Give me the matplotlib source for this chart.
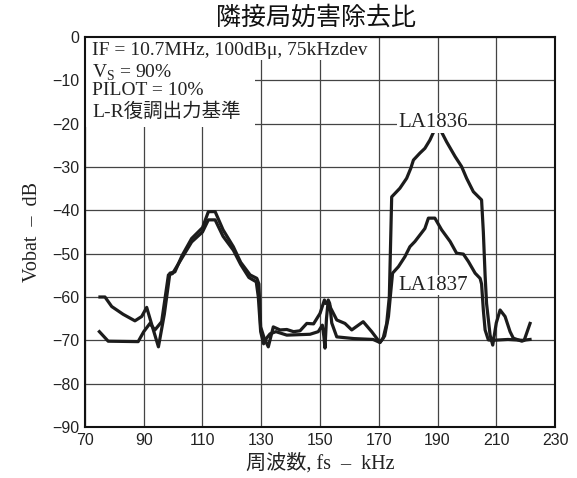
import matplotlib
matplotlib.use("Agg")
import matplotlib.pyplot as plt
from matplotlib.patches import Rectangle
from matplotlib import font_manager

plt.rcParams["font.family"] = ["Liberation Sans", "Noto Sans CJK JP"]
plt.rcParams["mathtext.fontset"] = "custom"
plt.rcParams["mathtext.rm"] = "Liberation Serif"
plt.rcParams["axes.unicode_minus"] = True

# LA1836 trace (kHz, dB)
la1836_f = [75.1, 76.8, 79.1, 83, 87, 89.3, 91, 93, 95, 97, 98.9, 100.6, 103, 106.3, 110,
            112, 114.3, 117, 120.5, 123, 126.2, 128.5, 129.2, 129.8, 131, 132.4, 134.1, 136.4,
            138.7, 141, 143.2, 145.5, 147.8, 150, 151.5, 152, 152.8, 153.6, 155.7, 158.5,
            160.8, 164.7, 167.6, 170.4, 171.5, 172.7, 173.6, 174.4, 177.2, 179.5, 180.9,
            181.8, 184, 185.7, 187.4, 189.1, 190.9, 193.1, 196, 198.2, 199.9, 202.2, 205,
            205.6, 206.2, 206.7, 207.9, 208.8, 210, 211.3, 213, 214.7, 215.8, 218.7, 219.5, 221.5]
la1836_db = [-60, -60, -62.2, -64, -65.5, -64.5, -62.4, -67, -71.5, -64, -54.5, -54.2, -50.5,
             -46.5, -44, -40.3, -40.3, -44.5, -48.4, -52, -54.9, -55.7, -57, -66.9, -69.5, -71.5,
             -66.9, -67.6, -67.5, -68, -67.8, -66.1, -66.2, -63.8, -60.7, -61.5, -61, -62.5,
             -65.3, -66.1, -67.6, -65.7, -68, -70.5, -69.5, -66.1, -59.9, -36.9, -34.9, -32.6,
             -30.3, -28.4, -26.8, -25.7, -23.8, -21.3, -21.3, -24.2, -27.6, -29.9, -32.6, -35.7,
             -37.6, -45, -55, -61.5, -68.8, -71.1, -66, -63, -64.5, -68, -69.5, -70.2, -70, -66.1]

# LA1837 trace (kHz, dB)
la1837_f = [74.9, 77.9, 88.1, 90, 92.1, 93.8, 96.1, 98.4, 99.8, 103, 106.3, 110, 112, 114.3,
            117, 120.5, 123, 125.8, 128.3, 129, 129.8, 130.8, 131.8, 133, 135, 138.7, 146.6,
            149.4, 150.8, 151.3, 151.7, 152.2, 152.8, 153.3, 154, 155.7, 161.6, 168.1, 170.4,
            172, 173.3, 174.2, 174.7, 176.7, 178.9, 180.6, 182.3, 184, 185.7, 186.9, 189.1,
            191.4, 194.3, 196.5, 198.8, 200.5, 202.8, 204.5, 205, 205.6, 206.2, 207.3, 208.5,
            214, 219, 221.5]
la1837_db = [-68, -70.2, -70.3, -68, -66.1, -67.6, -65.7, -54.9, -54.6, -51, -47.3, -45, -42.2,
             -42.2, -46, -49.2, -52.5, -55.5, -56.5, -60, -68, -70.8, -69.5, -68.5, -68, -68.8,
             -68.6, -68, -66.5, -69, -71.8, -65, -60.7, -61.5, -66, -69.2, -69.6, -69.8, -70.5,
             -69, -64.5, -58, -54.5, -53, -50.7, -48.4, -47.2, -45.7, -44.2, -41.8, -41.8, -44.5,
             -47.2, -49.9, -50.1, -51.8, -54.5, -55.7, -57, -63, -67.6, -69.9, -70, -69.8, -70,
             -69.8]

x_ticks = [70, 90, 110, 130, 150, 170, 190, 210, 230]
y_ticks = [0, -10, -20, -30, -40, -50, -60, -70, -80, -90]

conditions = ["IF = 10.7MHz, 100dBμ, 75kHzdev",
              "V$_{\\mathrm{S}}$ = 90%",
              "PILOT = 10%",
              "L-R復調出力基準"]

fig = plt.figure(figsize=(5.77, 4.78), dpi=100)
ax = fig.add_axes([0.1473, 0.1067, 0.8146, 0.8159])

line_kw = dict(color="#1c1c1c", lw=2.3, solid_joinstyle="round", zorder=3)
ax.plot(la1836_f, la1836_db, **line_kw)
ax.plot(la1837_f, la1837_db, **line_kw)

ax.set_xlim(70, 230)
ax.set_ylim(-90, 0)
ax.set_xticks(x_ticks)
ax.set_yticks(y_ticks)
ax.tick_params(length=0, pad=4, colors="#222222")
tick_font = font_manager.FontProperties(family="Liberation Sans", size=11.5)
for lab in ax.get_xticklabels() + ax.get_yticklabels():
    lab.set_fontproperties(tick_font)
ax.grid(True, color="#444444", lw=0.9, zorder=1)
ax.set_axisbelow(True)
for s in ax.spines.values():
    s.set_linewidth(1.5)
    s.set_color("#111111")

# white panels behind the condition text hide the grid there
ax.add_patch(Rectangle((0, 0.769), 0.362, 0.231, transform=ax.transAxes,
                       facecolor="white", edgecolor="none", zorder=2))
ax.add_patch(Rectangle((0, 0.941), 0.606, 0.059, transform=ax.transAxes,
                       facecolor="white", edgecolor="none", zorder=2))

serif = ["Liberation Serif", "Noto Sans CJK JP"]
for text, ypos in zip(conditions, [0.987, 0.933, 0.885, 0.833]):
    ax.text(0.015, ypos, text, transform=ax.transAxes, ha="left", va="top",
            fontsize=14, family=serif, color="#222222", zorder=4)

ax.text(188.4, -19.8, "LA1836", ha="center", va="center", fontsize=15, family=serif,
        color="#222222", zorder=4, bbox=dict(facecolor="white", edgecolor="none", pad=0.5))
ax.text(188.4, -57.3, "LA1837", ha="center", va="center", fontsize=15, family=serif,
        color="#222222", zorder=4, bbox=dict(facecolor="white", edgecolor="none", pad=0.5))

fig.text(0.548, 0.962, "隣接局妨害除去比", ha="center", va="center", fontsize=18,
         family=["Noto Sans CJK JP"], color="#111111")
ax.set_xlabel("周波数, fs  –  kHz", fontsize=14.5, family=serif, color="#222222", labelpad=4)
ax.set_ylabel("Vobat  –  dB", fontsize=14.5, family=serif, color="#222222", labelpad=7)

fig.savefig("out.png", dpi=100)
